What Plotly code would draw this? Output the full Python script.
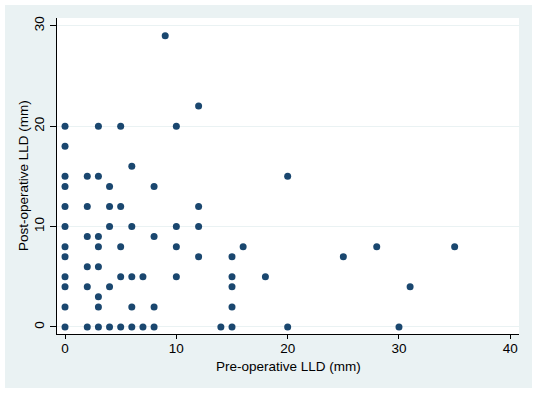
import plotly.graph_objects as go

pre_op = [0, 3, 5, 10,
          0, 6,
          0, 2, 3, 20,
          0, 4, 8,
          0, 2, 4, 5, 12,
          0, 4, 6, 10, 12,
          2, 3, 8,
          0, 3, 5, 10, 16, 28, 35,
          0, 12, 15, 25,
          2, 3,
          0, 5, 6, 7, 10, 15, 18,
          0, 2, 4, 15, 31,
          3,
          0, 3, 6, 8, 15,
          0, 2, 3, 4, 5, 6, 7, 8, 14, 15, 20, 30,
          9, 12]
post_op = [20, 20, 20, 20,
           18, 16,
           15, 15, 15, 15,
           14, 14, 14,
           12, 12, 12, 12, 12,
           10, 10, 10, 10, 10,
           9, 9, 9,
           8, 8, 8, 8, 8, 8, 8,
           7, 7, 7, 7,
           6, 6,
           5, 5, 5, 5, 5, 5, 5,
           4, 4, 4, 4, 4,
           3,
           2, 2, 2, 2, 2,
           0, 0, 0, 0, 0, 0, 0, 0, 0, 0, 0, 0,
           29, 22]

x_ticks = [0, 10, 20, 30, 40]
y_ticks = [0, 10, 20, 30]
x_title = "Pre-operative LLD (mm)"
y_title = "Post-operative LLD (mm)"

BG = "#EAF2F3"
NAVY = "#1A476F"
FONT = "Liberation Sans, Arial, sans-serif"

fig = go.Figure()
fig.add_trace(go.Scatter(
    x=pre_op, y=post_op, mode="markers",
    marker=dict(color=NAVY, size=7, line=dict(width=0)),
    showlegend=False, hoverinfo="x+y",
))

fig.update_layout(
    width=537, height=393,
    margin=dict(l=57, r=18, t=18, b=59, autoexpand=False),
    paper_bgcolor="white",
    plot_bgcolor="white",
    font=dict(family=FONT, size=13.5, color="black"),
    shapes=[
        dict(type="rect", xref="paper", yref="paper",
             x0=-0.1126, x1=1.0281, y0=-0.1709, y1=1.0411,
             fillcolor=BG, line=dict(width=0), layer="below"),
        dict(type="rect", xref="paper", yref="paper",
             x0=0, x1=1, y0=0, y1=1,
             fillcolor="white", line=dict(width=0), layer="below"),
    ],
    annotations=[
        dict(text=x_title, xref="paper", yref="paper", x=0.5, y=0,
             xanchor="center", yanchor="middle", yshift=-32,
             showarrow=False, font=dict(size=13.5)),
        dict(text=y_title, xref="paper", yref="paper", x=0, y=0.5,
             xanchor="center", yanchor="middle", xshift=-34, textangle=-90,
             showarrow=False, font=dict(size=13.5)),
    ],
)

fig.update_xaxes(
    automargin=False,
    range=[-0.72, 40.78],
    tickvals=x_ticks, ticktext=[str(v) for v in x_ticks],
    showgrid=False, zeroline=False,
    showline=True, linecolor="black", linewidth=1.3,
    ticks="outside", ticklen=4, tickcolor="black", tickwidth=1,
    ticklabelstandoff=-2,
    tickfont=dict(size=13.5),
)
fig.update_yaxes(
    automargin=False,
    range=[-0.70, 30.77],
    tickvals=y_ticks, ticktext=[str(v) for v in y_ticks],
    tickangle=-90,
    showgrid=True, gridcolor=BG, gridwidth=1,
    zeroline=False,
    showline=True, linecolor="black", linewidth=1.3,
    ticks="outside", ticklen=6, tickcolor="black", tickwidth=1,
    tickfont=dict(size=13.5),
)

fig.write_html(
    "out.html",
    config={"displayModeBar": False},
    post_script="document.body.style.margin='0';document.body.style.overflow='hidden';",
)
